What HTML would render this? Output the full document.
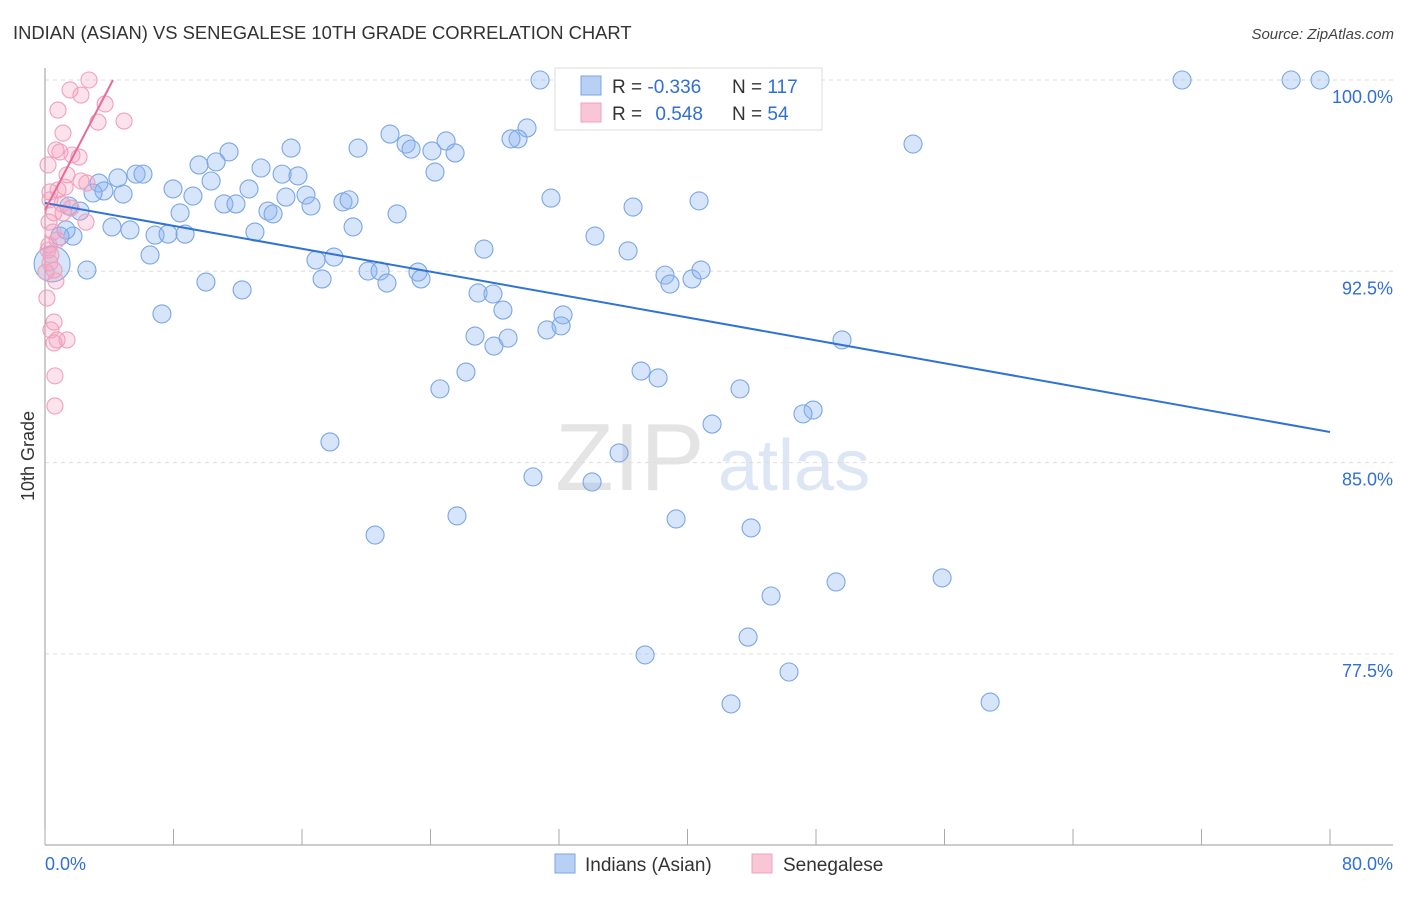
<!DOCTYPE html>
<html><head><meta charset="utf-8">
<style>
body{margin:0;background:#fff;font-family:"Liberation Sans",sans-serif;}
svg text{font-family:"Liberation Sans",sans-serif;}
</style></head>
<body>
<svg id="chart" width="1406" height="892" viewBox="0 0 1406 892" xmlns="http://www.w3.org/2000/svg">
<text x="13" y="39" font-size="18.4" fill="#333">INDIAN (ASIAN) VS SENEGALESE 10TH GRADE CORRELATION CHART</text>
<text x="1394" y="39" font-size="15" fill="#444" text-anchor="end" font-style="italic">Source: ZipAtlas.com</text>
<g>
<text x="555" y="490" font-size="96" fill="#e4e4e4" font-family="Liberation Serif,serif">ZIP</text>
<text x="718" y="490" font-size="72" fill="#dce6f4">atlas</text>
</g>
<g id="grid"></g>
<g id="axes"></g>
<g id="pts"></g>
<g id="lines"></g>
<text transform="translate(34,456) rotate(-90)" font-size="18" fill="#333" text-anchor="middle">10th Grade</text>
<g>
<rect x="555" y="68" width="267" height="62" fill="#fff" stroke="#ddd"/>
<rect x="581" y="76" width="20" height="19" fill="#b8d0f4" stroke="#7aa6e6"/>
<rect x="581" y="103" width="20" height="19" fill="#f9c6d6" stroke="#f0a0bc"/>
<text x="612" y="93" font-size="19" fill="#333">R = <tspan fill="#2f6fd6">-0.336</tspan></text>
<text x="732" y="93" font-size="19" fill="#333">N = <tspan fill="#2f6fd6">117</tspan></text>
<text x="612" y="120" font-size="19" fill="#333">R = <tspan fill="#2f6fd6" dx="8">0.548</tspan></text>
<text x="732" y="120" font-size="19" fill="#333">N = <tspan fill="#2f6fd6">54</tspan></text>
</g>
<g>
<rect x="555" y="854" width="20" height="19" fill="#b8d0f4" stroke="#7aa6e6"/>
<text x="585" y="871" font-size="19" fill="#333">Indians (Asian)</text>
<rect x="752" y="854" width="20" height="19" fill="#f9c6d6" stroke="#f0a0bc"/>
<text x="783" y="871" font-size="19" fill="#333">Senegalese</text>
</g>
</svg>
<script>
const yTicks=[100,92.5,85,77.5];
const yTickLabels=["100.0%","92.5%","85.0%","77.5%"];
const xTicks=[0,8,16,24,32,40,48,56,64,72,80];
const blueX=[30.82,46.88,70.79,77.58,79.38,54.04,21.48,30.01,24.97,29.45,29.01,22.48,22.79,24.09,25.53,19.49,15.32,11.46,9.59,10.65,13.45,14.76,15.75,24.28,10.34,12.70,7.97,4.54,5.67,6.10,3.36,3.67,2.99,4.86,9.21,16.25,15.00,16.56,11.14,11.89,8.41,13.88,14.20,18.55,18.93,21.92,31.50,36.61,40.72,34.24,36.30,27.33,19.18,13.07,6.85,7.66,8.72,4.17,5.29,1.74,1.31,0.93,2.18,1.49,2.61,6.54,16.87,17.99,17.25,20.11,20.86,21.29,23.22,23.41,10.02,12.27,26.96,27.89,28.51,38.60,38.91,40.28,40.84,32.25,31.25,32.13,7.28,26.77,27.95,28.83,49.62,26.21,24.59,37.11,38.17,43.27,47.82,47.19,41.53,17.74,35.74,30.38,34.06,25.65,20.55,39.29,43.96,49.25,55.85,45.20,43.77,37.36,46.32,42.71,58.84,0.44];
const blueY=[100,100,100,100,100,97.49,97.88,98.12,97.61,97.69,97.69,97.49,97.29,97.22,97.14,97.33,97.33,97.18,96.67,96.79,96.55,96.31,96.24,96.39,96.04,95.73,95.73,96.16,96.31,96.31,95.96,95.65,95.57,95.53,95.45,95.49,95.41,95.06,95.14,95.14,94.79,94.86,94.75,95.22,95.30,94.75,95.37,95.02,95.26,93.88,93.30,93.37,94.24,94.04,93.92,93.96,93.96,94.24,94.12,93.88,94.12,93.88,94.86,95.06,92.55,93.14,92.94,93.06,92.20,92.51,92.51,92.04,92.47,92.20,92.08,91.77,91.65,91.61,90.98,92.35,92.00,92.20,92.55,90.79,90.20,90.36,90.83,89.96,89.57,89.88,89.81,88.55,87.89,88.59,88.32,87.89,87.06,86.91,86.51,85.81,85.38,84.44,84.24,82.91,82.16,82.79,82.44,80.32,80.48,79.77,78.16,77.46,76.79,75.54,75.61,92.79];
const pinkX=[2.74,1.56,2.24,0.81,3.74,4.92,3.30,1.12,0.68,0.93,1.68,2.12,0.19,1.37,2.24,2.61,1.25,0.81,0.31,0.31,1.06,1.62,0.56,1.12,2.55,0.25,0.50,0.75,0.25,0.37,0.31,0.56,0.68,0.12,0.56,0.37,1.37,0.75,0.56,0.62,0.62,0.19,0.06];
const pinkY=[100,99.61,99.41,98.82,99.06,98.39,98.35,97.92,97.26,97.18,97.06,96.98,96.67,96.28,96.04,95.96,95.80,95.69,95.61,95.30,95.14,94.98,94.79,94.79,94.43,94.43,94.04,93.73,93.53,93.14,92.83,92.55,92.12,91.45,90.51,90.20,89.81,89.81,89.69,88.40,87.22,93.33,92.47];
const blueTrend=[95.18,86.20];
const pinkTrend=[94.90,100,4.23];

const X0=45,X1=1330,Y100=80,PX_PER=191.3/7.5;
const sx=v=>X0+(v/80)*(X1-X0);
const sy=v=>Y100+(100-v)*PX_PER;
const NS="http://www.w3.org/2000/svg";
function mk(tag,attrs,parent){const e=document.createElementNS(NS,tag);for(const k in attrs)e.setAttribute(k,attrs[k]);parent.appendChild(e);return e;}
const grid=document.getElementById('grid'),axes=document.getElementById('axes'),pts=document.getElementById('pts'),lines=document.getElementById('lines');
yTicks.forEach((t,i)=>{
 const l=mk('line',{x1:X0,x2:1393,y1:sy(t),y2:sy(t),stroke:'#ddd','stroke-dasharray':'4,4'},grid);
 
 
 const tx=mk('text',{x:1393,y:sy(t)+23,'font-size':18,fill:'#2f6fd6','text-anchor':'end'},axes);
 tx.textContent=yTickLabels[i];
 
 
});
const ya=mk('line',{x1:X0,x2:X0,y1:68,y2:845,stroke:'#999'},axes);


const xa=mk('line',{x1:X0,x2:1393,y1:845,y2:845,stroke:'#999'},axes);


xTicks.forEach(t=>{
 const l=mk('line',{x1:sx(t),x2:sx(t),y1:829,y2:845,stroke:'#aaa'},axes);
 
 
});
const xl0=mk('text',{x:45,y:870,'font-size':18,fill:'#2f6fd6'},axes);xl0.textContent='0.0%';


const xl1=mk('text',{x:1393,y:870,'font-size':18,fill:'#2f6fd6','text-anchor':'end'},axes);xl1.textContent='80.0%';


blueX.forEach((x,i)=>{
 const big=(i===blueX.length-1);
 const c=mk('circle',{cx:sx(x),cy:sy(blueY[i]),r:big?18:9,fill:'rgba(140,180,240,0.35)',stroke:'#7aa6e6','stroke-width':1.1},pts);
 
 
});
pinkX.forEach((x,i)=>{
 const c=mk('circle',{cx:sx(x),cy:sy(pinkY[i]),r:8,fill:'rgba(245,160,190,0.3)',stroke:'#f0a0bc','stroke-width':1.1},pts);
 
 
});
const bl=mk('line',{x1:sx(0),y1:sy(blueTrend[0]),x2:sx(80),y2:sy(blueTrend[1]),stroke:'#2f72d8','stroke-width':2},lines);


const pl=mk('line',{x1:sx(0),y1:sy(pinkTrend[0]),x2:sx(pinkTrend[2]),y2:sy(pinkTrend[1]),stroke:'#e86a98','stroke-width':2},lines);


</script>
</body></html>
